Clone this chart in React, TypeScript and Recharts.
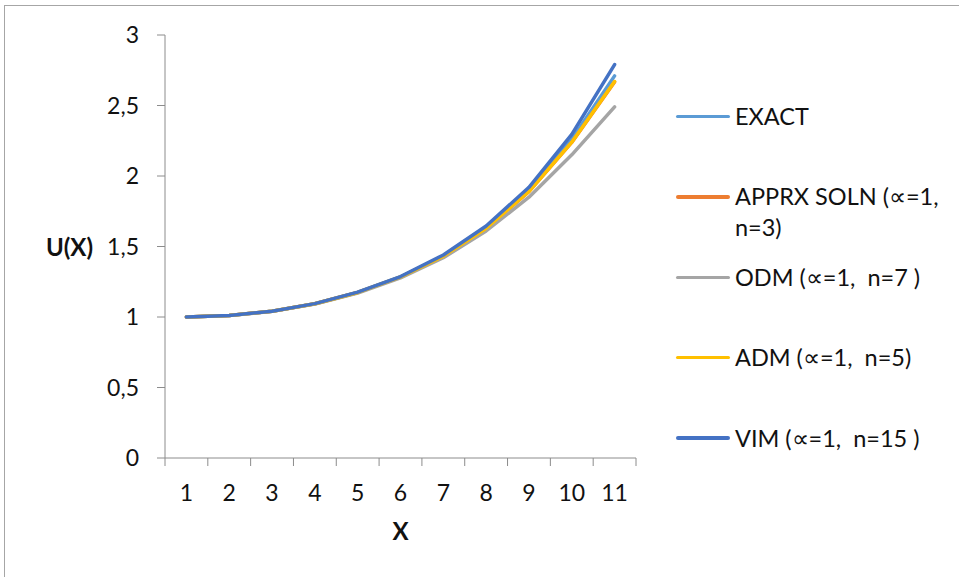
import { LineChart, Line, XAxis, YAxis } from "recharts"

const xValues = [1, 2, 3, 4, 5, 6, 7, 8, 9, 10, 11]
const exact = [1, 1.01, 1.041, 1.094, 1.174, 1.284, 1.433, 1.632, 1.896, 2.26, 2.71]
const apprx = [1, 1.01, 1.041, 1.094, 1.174, 1.283, 1.431, 1.629, 1.889, 2.238, 2.667]
const odm = [1, 1.01, 1.04, 1.092, 1.17, 1.277, 1.42, 1.61, 1.85, 2.15, 2.49]
const adm = [1, 1.01, 1.041, 1.094, 1.174, 1.284, 1.432, 1.63, 1.89, 2.24, 2.67]
const vim = [1, 1.01, 1.041, 1.095, 1.176, 1.287, 1.44, 1.645, 1.92, 2.295, 2.79]

const yTicks = [0, 0.5, 1, 1.5, 2, 2.5, 3]
const xBounds = [0.5, 1.5, 2.5, 3.5, 4.5, 5.5, 6.5, 7.5, 8.5, 9.5, 10.5, 11.5]

const series = [
  { key: "exact", name: "EXACT", color: "#5b9bd5", values: exact },
  { key: "apprx", name: "APPRX SOLN (∝=1, n=3)", color: "#ed7d31", values: apprx },
  { key: "odm", name: "ODM (∝=1,  n=7 )", color: "#a5a5a5", values: odm },
  { key: "adm", name: "ADM (∝=1,  n=5)", color: "#ffc000", values: adm },
  { key: "vim", name: "VIM (∝=1,  n=15 )", color: "#4472c4", values: vim },
]

const data = xValues.map((x, i) => {
  const row: Record<string, number> = { x }
  series.forEach((s) => (row[s.key] = s.values[i]))
  return row
})

const font = "Lato, Calibri, 'Open Sans', sans-serif"
const axisGray = "#8c8c8c"

export default function App() {
  return (
    <div style={{ position: "absolute", left: 0, top: 0, width: 959, height: 577, overflow: "hidden", background: "#fff", fontFamily: font }}>
      <div style={{ position: "absolute", left: 4, top: 5, width: 1000, height: 600, borderLeft: "1.5px solid #a6a6a6", borderTop: "1.5px solid #a6a6a6" }} />
      <div style={{ position: "absolute", left: 0, top: 0 }}>
        <LineChart width={959} height={577} data={data} margin={{ top: 35, right: 323, left: 0, bottom: 0 }}>
          <XAxis
            xAxisId="g"
            dataKey="x"
            type="number"
            domain={[0.5, 11.5]}
            ticks={xBounds}
            height={8}
            tickSize={8}
            stroke={axisGray}
            tick={() => <g />}
            interval={0}
          />
          <XAxis
            xAxisId="l"
            dataKey="x"
            type="number"
            domain={[0.5, 11.5]}
            ticks={xValues}
            height={111}
            axisLine={false}
            tickLine={false}
            tickSize={0}
            tickMargin={19}
            interval={0}
            tick={{ fontSize: 23, fill: "#111", fontFamily: font }}
            label={{ value: "X", position: "insideTop", offset: 57, style: { fontSize: 24, fontWeight: 700, fill: "#111", fontFamily: font } }}
          />
          <YAxis
            type="number"
            domain={[0, 3]}
            ticks={yTicks}
            width={165}
            tickSize={8}
            tickMargin={18}
            stroke={axisGray}
            interval={0}
            tick={{ fontSize: 23, fill: "#111", fontFamily: font }}
            tickFormatter={(v: number) => String(v).replace(".", ",")}
            label={{
              value: "U(X)",
              content: (props: any) => {
                const vb = props.viewBox || {}
                return (
                  <text
                    x={vb.x + vb.width - 72}
                    y={vb.y + vb.height / 2}
                    textAnchor="end"
                    dominantBaseline="central"
                    style={{ fontSize: 24, fontWeight: 700, fill: "#111", fontFamily: font }}
                  >
                    U(X)
                  </text>
                )
              },
            }}
          />
          {series.map((s) => (
            <Line
              key={s.key}
              xAxisId="l"
              type="linear"
              dataKey={s.key}
              name={s.name}
              stroke={s.color}
              strokeWidth={3.5}
              strokeLinecap="round"
              strokeLinejoin="round"
              dot={false}
              isAnimationActive={false}
            />
          ))}
        </LineChart>
      </div>
      <div style={{ position: "absolute", left: 676, top: 101 }}>
        {series.map((s) => (
          <div key={s.key} style={{ height: 80.4, display: "flex", alignItems: "flex-start" }}>
            <div style={{ width: 54, height: 31, display: "flex", alignItems: "center" }}>
              <div style={{ width: 54, height: 3.5, borderRadius: 2, background: s.color }} />
            </div>
            <div style={{ marginLeft: 5, width: 210, fontSize: 23.5, lineHeight: "31px", color: "#111", whiteSpace: "pre-wrap" }}>
              {s.name}
            </div>
          </div>
        ))}
      </div>
    </div>
  )
}
